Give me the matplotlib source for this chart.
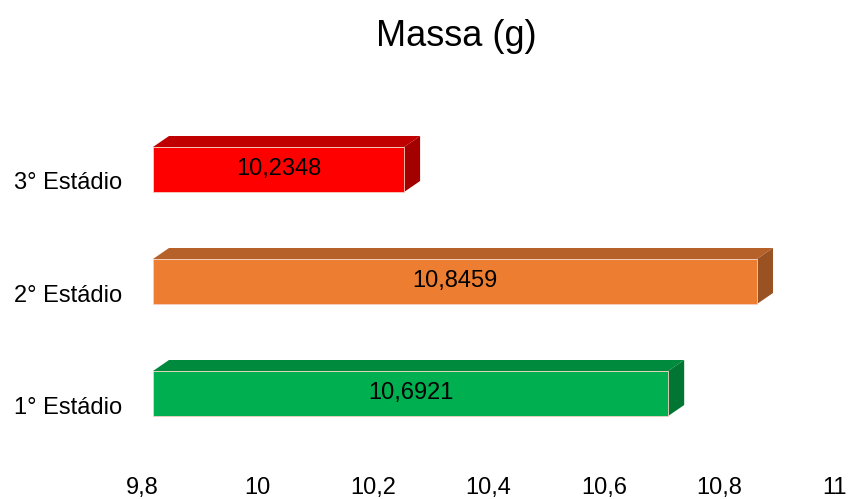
import matplotlib.pyplot as plt
import matplotlib.transforms as mtransforms
from matplotlib.patches import Polygon

plt.rcParams['font.family'] = ['Liberation Sans', 'DejaVu Sans']

categories = ['1° Estádio', '2° Estádio', '3° Estádio']
massa = [10.6921, 10.8459, 10.2348]
xticks = [9.8, 10.0, 10.2, 10.4, 10.6, 10.8, 11.0]
xtick_labels = ['9,8', '10', '10,2', '10,4', '10,6', '10,8', '11']

front = ['#00B050', '#ED7D31', '#FF0000']
top = ['#008A3E', '#B6612A', '#C00000']
side = ['#007632', '#9A5222', '#A30000']

W, H, DPI = 849, 499, 100
fig = plt.figure(figsize=(W / DPI, H / DPI), dpi=DPI)

# axes placed so the front faces of the bars sit on the data grid
x0, x1 = 9.8, 11.0
left_px, right_px = 153, 846
ylo, yhi = -0.6, 2.6
row_px = 112
bot_px = 393.5 + 0.6 * row_px
top_px = bot_px - (yhi - ylo) * row_px
ax = fig.add_axes([left_px / W, (H - bot_px) / H,
                   (right_px - left_px) / W, (bot_px - top_px) / H])
ax.set_xlim(x0, x1)
ax.set_ylim(ylo, yhi)

bar_h = 45 / row_px
# depth of the 3d extrusion, in data units
dx = 16 / ((right_px - left_px) / (x1 - x0))
dy = 11 / row_px

for i, v in enumerate(massa):
    yb, yt = i - bar_h / 2, i + bar_h / 2
    ax.barh(i, v - x0, left=x0, height=bar_h, color=front[i],
            edgecolor='#f4d0c0', linewidth=0.6, zorder=3)
    ax.add_patch(Polygon([(x0, yt), (v, yt), (v + dx, yt + dy), (x0 + dx, yt + dy)],
                         closed=True, facecolor=top[i], edgecolor='none', zorder=2))
    ax.add_patch(Polygon([(v, yt), (v + dx, yt + dy), (v + dx, yb + dy), (v, yb)],
                         closed=True, facecolor=side[i], edgecolor='none', zorder=2))
    ax.text((x0 + v) / 2, i, f'{v:.4f}'.replace('.', ','), ha='center', va='center',
            fontsize=17, color='black', zorder=4)

ax.set_yticks(range(len(categories)))
ax.set_yticklabels(categories, fontsize=17)
ax.set_xticks(xticks)
ax.set_xticklabels(xtick_labels, fontsize=17)
ax.tick_params(axis='both', length=0)
ax.tick_params(axis='y', pad=22)
ax.tick_params(axis='x', pad=12)

# category and value labels sit on the back plane of the 3d box
shift_x = mtransforms.ScaledTranslation(-11 / DPI, 0, fig.dpi_scale_trans)
shift_y = mtransforms.ScaledTranslation(0, -11.5 / DPI, fig.dpi_scale_trans)
for lab in ax.get_xticklabels():
    lab.set_transform(lab.get_transform() + shift_x)
for lab in ax.get_yticklabels():
    lab.set_transform(lab.get_transform() + shift_y)

for s in ax.spines.values():
    s.set_visible(False)

fig.text(456 / W, 1 - 37 / H, 'Massa (g)', ha='center', va='center', fontsize=26)

fig.savefig('out.png', dpi=DPI)
